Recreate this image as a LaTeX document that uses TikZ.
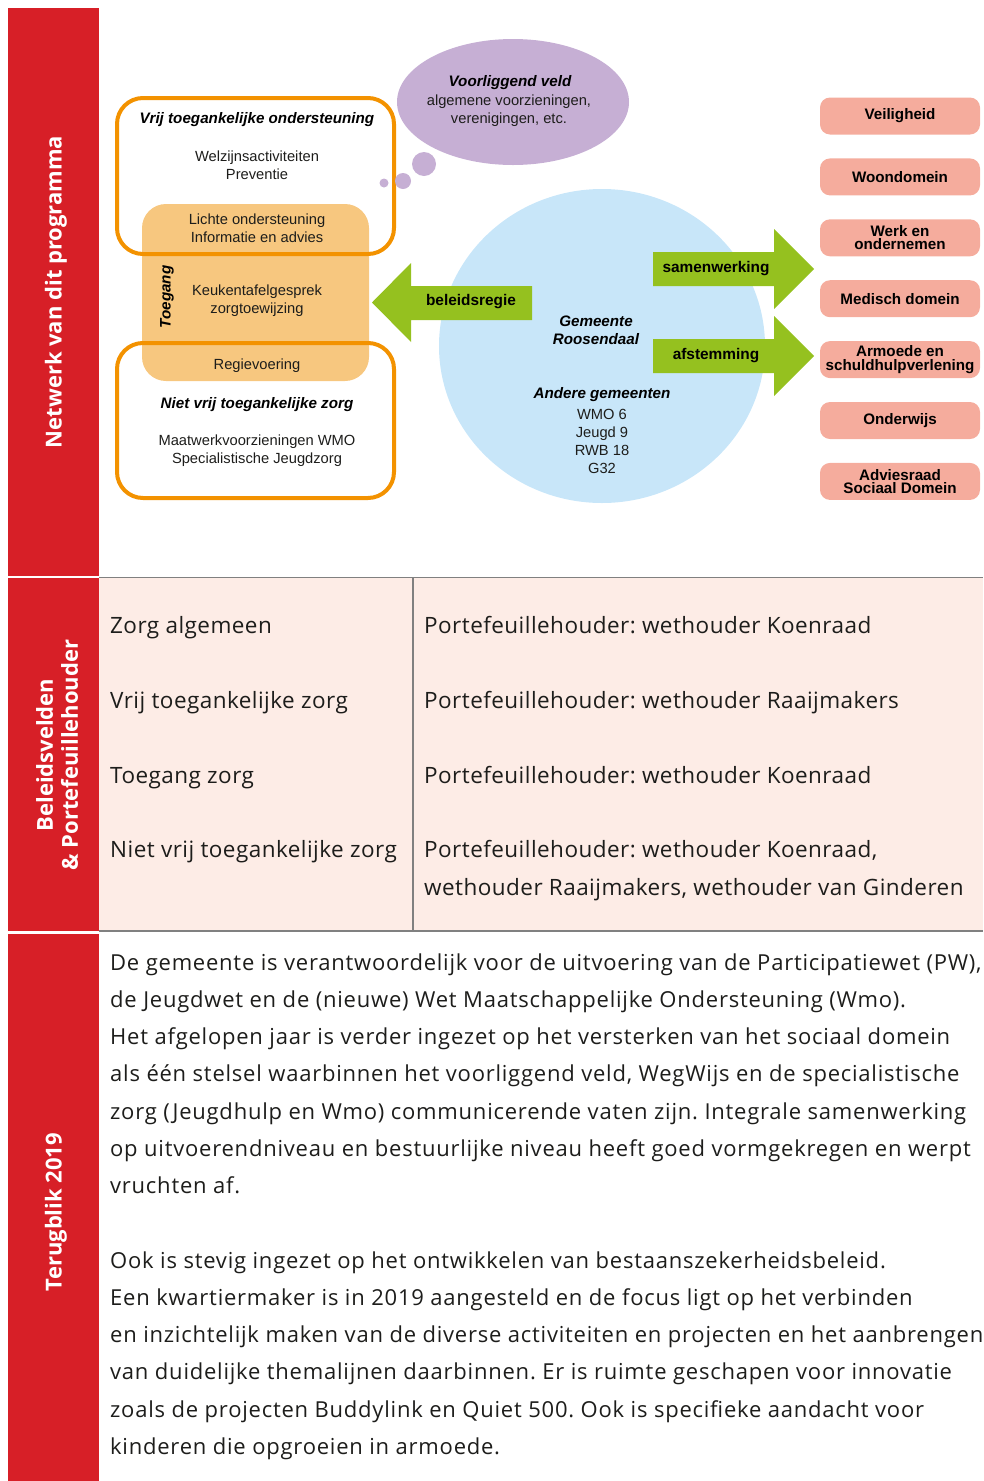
\documentclass[tikz,border=0pt]{standalone}
\usepackage{fontspec}
\setmainfont{Open Sans}
\newfontfamily\arialfont{Liberation Sans}
\frenchspacing
\definecolor{sidered}{HTML}{D71F27}
\definecolor{tablepink}{HTML}{FDECE6}
\definecolor{linegray}{HTML}{808080}
\definecolor{darktext}{HTML}{1D1D1B}
\definecolor{boxorange}{HTML}{F39200}
\definecolor{toegangtan}{HTML}{F7C77F}
\definecolor{veldpurple}{HTML}{C6AFD4}
\definecolor{gemeenteblue}{HTML}{C8E6F9}
\definecolor{arrowgreen}{HTML}{95C11F}
\definecolor{domeinsalmon}{HTML}{F5AC9D}

\begin{document}
\begin{tikzpicture}[x=1pt,y=-1pt,
    sidelabel/.style={rotate=90, text=white, align=center, font=\bfseries\fontsize{22}{25}\selectfont},
    diag/.style={align=center, text=darktext, font=\arialfont\fontsize{14.7}{18}\selectfont},
    diagbold/.style={align=center, text=black, font=\arialfont\bfseries\itshape\fontsize{15.2}{18}\selectfont},
    arrowlabel/.style={text=black, font=\arialfont\bfseries\fontsize{15.4}{17}\selectfont},
    domein/.style={fill=domeinsalmon, rounded corners=10pt, minimum width=160pt, minimum height=37pt,
        inner sep=0pt, align=center, font=\arialfont\bfseries\fontsize{15.2}{13.5}\selectfont},
    rowtext/.style={anchor=base west, inner sep=0pt, text=darktext,
        font=\fontsize{22.5}{37.5}\selectfont\addfontfeatures{LetterSpace=2}},
    bodytext/.style={anchor=base west, inner sep=0pt, text=darktext,
        font=\fontsize{22}{37.3}\selectfont\addfontfeatures{LetterSpace=3.5}}]
    \useasboundingbox (0,0) rectangle (983,1481);
    \clip (0,0) rectangle (983,1481);

    % side bar
    \fill[sidered] (8,8) rectangle (99,576);
    \fill[sidered] (8,578) rectangle (99,931);
    \fill[sidered] (8,934) rectangle (99,1481);
    \node[sidelabel] (netwerk) at (56,292) {Netwerk van dit programma};
    \node[sidelabel] (beleidsvelden) at (57,755) {Beleidsvelden\\\& Portefeuillehouder};
    \node[sidelabel] (terugblik) at (56,1212) {Terugblik 2019};

    % Toegang and the two zorg boxes
    \fill[toegangtan, rounded corners=24pt] (142,204) rectangle (369,381);
    \draw[boxorange, line width=4pt, rounded corners=26pt] (117,98) rectangle (394,254);
    \draw[boxorange, line width=4pt, rounded corners=26pt] (117,343) rectangle (394,498);
    \node[diagbold] (vrijtitel) at (257,120) {Vrij toegankelijke ondersteuning};
    \node[diag] (welzijn) at (257,165) {Welzijnsactiviteiten\\Preventie};
    \node[diag] (lichte) at (257,228) {Lichte ondersteuning\\Informatie en advies};
    \node[diagbold, rotate=90] (toegang) at (167,297) {Toegang};
    \node[diag] (keuken) at (257,301) {Keukentafelgesprek\\zorgtoewijzing};
    \node[diag] (regie) at (257,366) {Regievoering};
    \node[diagbold] (nietvrij) at (257,405) {Niet vrij toegankelijke zorg};
    \node[diag] (maatwerk) at (257,451) {Maatwerkvoorzieningen WMO\\Specialistische Jeugdzorg};

    % Voorliggend veld
    \fill[veldpurple] (513,102) ellipse [x radius=116pt, y radius=63pt];
    \fill[veldpurple] (424,164) circle [radius=12pt];
    \fill[veldpurple] (403,181) circle [radius=8pt];
    \fill[veldpurple] (384,183) circle [radius=4.5pt];
    \node[diagbold] (veld) at (510,83) {Voorliggend veld};
    \node[diag] (voorzieningen) at (509,111) {algemene voorzieningen,\\verenigingen, etc.};

    % Gemeente
    \fill[gemeenteblue] (602,346) ellipse [x radius=163pt, y radius=157pt];
    \node[diagbold] (gemeente) at (596,330) {Gemeente\\Roosendaal};
    \node[diagbold] (andere) at (602,395) {Andere gemeenten};
    \node[diag] (regios) at (602,441) {WMO 6\\Jeugd 9\\RWB 18\\G32};

    % arrows
    \fill[arrowgreen] (532,286) -- (411,286) -- (411,263) -- (372,302.5) -- (411,342) -- (411,320) -- (532,320) -- cycle;
    \node[arrowlabel] (beleidsregie) at (471,302) {beleidsregie};
    \foreach \y/\lbl in {269/samenwerking, 356/afstemming} {
        \fill[arrowgreen] (653,\y-17) -- (774,\y-17) -- (774,\y-40) -- (814,\y) -- (774,\y+40) -- (774,\y+17) -- (653,\y+17) -- cycle;
        \node[arrowlabel] (\lbl) at (716,\y) {\lbl};
    }

    % domeinen
    \foreach \lbl [count=\i from 0] in {Veiligheid, Woondomein, {Werk en\\ondernemen}, Medisch domein,
        {Armoede en\\schuldhulpverlening}, Onderwijs, {Adviesraad\\Sociaal Domein}}
        \node[domein] (domein\i) at (900,116+60.9*\i) {\lbl};

    % table
    \fill[tablepink] (99,578) rectangle (983,931);
    \draw[linegray, line width=1.5pt] (99,577.5) -- (983,577.5);
    \draw[linegray, line width=1.5pt] (99,931) -- (983,931);
    \draw[linegray, line width=1.5pt] (413,578) -- (413,931);
    \node[rowtext] (veld1) at (110,633) {Zorg algemeen};
    \node[rowtext] (veld2) at (110,708) {Vrij toegankelijke zorg};
    \node[rowtext] (veld3) at (110,783) {Toegang zorg};
    \node[rowtext] (veld4) at (110,857) {Niet vrij toegankelijke zorg};
    \node[rowtext] (houder1) at (424,633) {Portefeuillehouder: wethouder Koenraad};
    \node[rowtext] (houder2) at (424,708) {Portefeuillehouder: wethouder Raaijmakers};
    \node[rowtext] (houder3) at (424,783) {Portefeuillehouder: wethouder Koenraad};
    \node[rowtext] (houder4) at (424,857) {Portefeuillehouder: wethouder Koenraad,};
    \node[rowtext] (houder4b) at (424,895) {wethouder Raaijmakers, wethouder van Ginderen};

    % terugblik
    \foreach \regel [count=\i from 0] in {
        {De gemeente is verantwoordelijk voor de uitvoering van de Participatiewet (PW),},
        {de Jeugdwet en de (nieuwe) Wet Maatschappelijke Ondersteuning (Wmo).},
        {Het afgelopen jaar is verder ingezet op het versterken van het sociaal domein},
        {als één stelsel waarbinnen het voorliggend veld, WegWijs en de specialistische},
        {zorg (Jeugdhulp en Wmo) communicerende vaten zijn. Integrale samenwerking},
        {op uitvoerendniveau en bestuurlijke niveau heeft goed vormgekregen en werpt},
        {vruchten af.}}
        \node[bodytext] (alinea\i) at (110,970+37.3*\i) {\regel};
    \foreach \regel [count=\i from 0] in {
        {Ook is stevig ingezet op het ontwikkelen van bestaanszekerheidsbeleid.},
        {Een kwartiermaker is in 2019 aangesteld en de focus ligt op het verbinden},
        {en inzichtelijk maken van de diverse activiteiten en projecten en het aanbrengen},
        {van duidelijke themalijnen daarbinnen. Er is ruimte geschapen voor innovatie},
        {zoals de projecten Buddylink en Quiet 500. Ook is specifieke aandacht voor},
        {kinderen die opgroeien in armoede.}}
        \node[bodytext] (vervolg\i) at (110,1268+37.3*\i) {\regel};
\end{tikzpicture}
\end{document}
